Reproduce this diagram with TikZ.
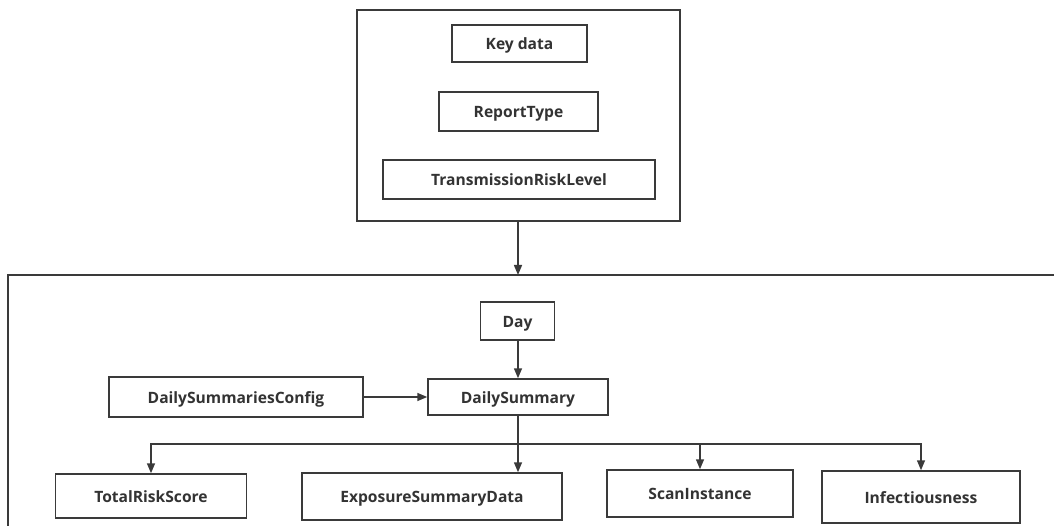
\documentclass[tikz,border=0pt]{standalone}
\usepackage{fontspec}
\setmainfont{Open Sans}[BoldFont={Open Sans Bold}]
\usetikzlibrary{arrows.meta}
\definecolor{ln}{HTML}{3A3A3A}
\definecolor{tx}{HTML}{333333}
\tikzset{
  box/.style={draw=ln, line width=1.5pt, fill=white, inner sep=0pt, text=tx,
    text height=14pt, text depth=2pt,
    font=\fontsize{15.6}{17}\selectfont\bfseries},
  frame/.style={draw=ln, line width=1.5pt},
  conn/.style={draw=ln, line width=1.5pt, -{Triangle[length=10pt,width=8pt]}},
  plain/.style={draw=ln, line width=1.5pt}
}
\begin{document}
\begin{tikzpicture}[x=1pt,y=-1pt]
\useasboundingbox (0,0) rectangle (1054,526);
% top container
\node[frame, minimum width=323pt, minimum height=211pt, inner sep=0pt] (topbox) at (518.5,115.5) {};
\node[box, minimum width=135pt, minimum height=37pt] (keydata) at (519.5,43.5) {Key data};
\node[box, minimum width=159pt, minimum height=39pt] (report) at (518.5,111.5) {ReportType};
\node[box, minimum width=272pt, minimum height=39pt] (trl) at (519,179.5) {TransmissionRiskLevel};
% bottom container (open frame)
\coordinate (bl) at (8,526);
\coordinate (tl) at (8,275);
\coordinate (tr) at (1054,275);
\coordinate (entry) at (518,275);
\draw[plain] (bl) -- (tl) -- (tr);
\draw[conn] (topbox.south -| entry) -- (entry);
% nodes
\node[box, minimum width=74pt, minimum height=38pt] (day) at (517.5,321) {Day};
\node[box, minimum width=180pt, minimum height=36pt] (dsum) at (518,397) {DailySummary};
\node[box, minimum width=254pt, minimum height=40pt] (dsc) at (236,397) {DailySummariesConfig};
\node[box, minimum width=191pt, minimum height=44pt] (trs) at (151,496) {TotalRiskScore};
\node[box, minimum width=260pt, minimum height=47pt] (esd) at (432,496.5) {ExposureSummaryData};
\node[box, minimum width=186pt, minimum height=47pt] (scan) at (700,493.5) {ScanInstance};
\node[box, minimum width=198pt, minimum height=52pt] (inf) at (921,497) {Infectiousness};
% connectors
\draw[conn] (day.south -| entry) -- (dsum.north -| entry);
\draw[conn] (dsc.east) -- (dsum.west);
\coordinate (br) at (518,444);
\draw[plain] (dsum.south -| br) -- (br);
\draw[conn] (br) -- (esd.north -| br);
\draw[conn] (br) -| (trs.north);
\draw[conn] (br) -| (scan.north);
\draw[conn] (br) -| (inf.north);
\end{tikzpicture}
\end{document}
